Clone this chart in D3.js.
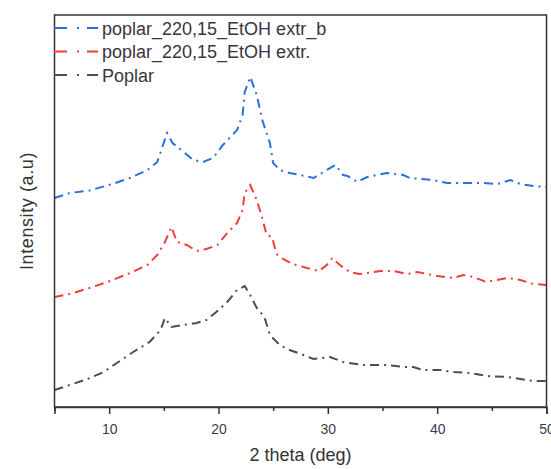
<!DOCTYPE html>
<html>
<head>
<meta charset="utf-8">
<script src="https://cdn.jsdelivr.net/npm/d3@7"></script>
<style>
  html, body { margin: 0; padding: 0; background: #fff; }
  svg { display: block; }
  text { font-family: "Liberation Sans", Arial, sans-serif; }
</style>
</head>
<body>
<svg id="chart" width="551" height="469"></svg>
<script>
// ---- data (2theta in deg, intensity in arbitrary units) ----
const seriesNames = ["poplar_220,15_EtOH extr_b", "poplar_220,15_EtOH extr.", "Poplar"];
const seriesColors = ["#2a6fdb", "#f03c3c", "#4d4d4d"];

const blueX = [5.0, 6.4, 8.2, 10.3, 11.9, 13.5, 14.4, 15.3, 15.8, 16.8, 17.7, 18.6, 19.5, 20.4, 21.7, 22.2, 22.4, 22.9, 23.5, 24.0, 24.7, 25.0, 25.6, 26.5, 27.5, 28.7, 29.9, 30.7, 31.4, 31.8, 32.7, 33.6, 35.4, 36.9, 37.5, 39.6, 40.9, 42.4, 44.2, 45.5, 46.7, 47.6, 48.8, 50.0];
const blueY = [209, 214, 216.5, 223, 229, 237, 245, 274, 264, 255, 247, 245, 249, 262, 277, 292, 315, 330, 312, 287, 264, 244, 237, 234, 232, 229, 237, 242, 232, 231, 225, 230, 234, 232, 229, 227, 224, 224, 224, 223, 227, 223, 221, 220];

const redX = [5.0, 6.4, 8.2, 10.1, 11.9, 13.5, 14.4, 15.1, 15.7, 16.2, 17.1, 18.0, 18.9, 19.9, 20.8, 21.7, 22.2, 22.4, 22.9, 23.5, 24.0, 24.4, 24.9, 25.2, 25.4, 25.9, 26.8, 28.1, 29.2, 29.9, 30.4, 31.1, 32.0, 32.9, 34.8, 36.0, 37.3, 38.2, 40.0, 41.5, 42.4, 43.3, 44.5, 46.4, 47.6, 48.8, 50.0];
const redY = [110, 113, 119, 126, 134, 142, 152, 165, 180, 165, 162, 156, 158, 162, 174, 184, 197, 214, 222, 207, 189, 172, 170, 157, 152, 148, 143, 139, 136, 142, 149, 142, 135, 133, 136, 136, 133, 135, 131, 129, 132, 130, 125, 129, 127, 123, 122];

const greyX = [5.0, 6.4, 8.0, 9.5, 10.7, 12.2, 13.7, 14.7, 15.1, 15.7, 16.8, 18.0, 18.9, 19.8, 20.8, 21.7, 22.4, 22.9, 23.5, 24.2, 24.7, 25.6, 26.5, 27.3, 28.7, 30.2, 31.4, 33.2, 35.4, 36.9, 37.8, 38.7, 40.3, 41.5, 43.0, 44.6, 46.4, 47.6, 48.8, 50.0];
const greyY = [17, 22, 28, 35, 44, 55, 65, 77, 89, 80, 82, 84, 87, 95, 105, 117, 121, 112, 99, 90, 72, 62, 57, 54, 48, 50, 45, 42, 42, 40, 40, 37, 37, 35, 34, 31, 30, 28, 26, 26];

const xTicks = [10, 20, 30, 40, 50];
const xMinorTicks = [5, 15, 25, 35, 45];
const xLabel = "2 theta (deg)";
const yLabel = "Intensity (a.u)";

// ---- layout ----
const svg = d3.select("#chart");
const pLeft = 54.5, pRight = 546.5, pTop = 15, pBottom = 407;

const x = d3.scaleLinear().domain([5, 50]).range([pLeft, pRight]);
const y = d3.scaleLinear().domain([0, 392]).range([pBottom, pTop]);

const series = [
  { name: seriesNames[0], color: seriesColors[0], xs: blueX, ys: blueY },
  { name: seriesNames[1], color: seriesColors[1], xs: redX, ys: redY },
  { name: seriesNames[2], color: seriesColors[2], xs: greyX, ys: greyY }
];

const line = d3.line().x(d => x(d[0])).y(d => y(d[1])).curve(d3.curveLinear);

// curves
series.forEach(s => {
  const pts = s.xs.map((v, i) => [v, s.ys[i]]);
  svg.append("path")
    .attr("d", line(pts))
    .attr("fill", "none")
    .attr("stroke", s.color)
    .attr("stroke-width", 2)
    .attr("stroke-dasharray", "9,5,2,5");
});

// frame
svg.append("rect")
  .attr("x", pLeft).attr("y", pTop)
  .attr("width", pRight - pLeft).attr("height", pBottom - pTop)
  .attr("fill", "none").attr("stroke", "#333").attr("stroke-width", 1.5);

// bottom axis
const xAxis = d3.axisBottom(x).tickValues(xTicks).tickSize(7).tickPadding(10).tickFormat(d3.format("d"));
const gx = svg.append("g").attr("transform", `translate(0,${pBottom})`).call(xAxis);
gx.select(".domain").attr("stroke", "#333").attr("stroke-width", 1.5);
gx.selectAll(".tick line").attr("stroke", "#333").attr("stroke-width", 1.5);
gx.selectAll(".tick text").attr("font-size", 14).attr("fill", "#3f3a4a")
  .attr("font-family", "'Liberation Sans', Arial, sans-serif");

const xAxisMinor = d3.axisBottom(x).tickValues(xMinorTicks).tickSize(4).tickFormat("");
const gxm = svg.append("g").attr("transform", `translate(0,${pBottom})`).call(xAxisMinor);
gxm.select(".domain").remove();
gxm.selectAll(".tick line").attr("stroke", "#333").attr("stroke-width", 1.5);

// axis titles
svg.append("text")
  .attr("x", (pLeft + pRight) / 2).attr("y", 461)
  .attr("text-anchor", "middle").attr("font-size", 18).attr("fill", "#333")
  .text(xLabel);

svg.append("text")
  .attr("transform", `translate(33,${(pTop + pBottom) / 2}) rotate(-90)`)
  .attr("text-anchor", "middle").attr("font-size", 18).attr("fill", "#333")
  .attr("letter-spacing", 0.6)
  .text(yLabel);

// legend
const legendY = [28, 51.5, 75];
series.forEach((s, i) => {
  const g = svg.append("g");
  g.append("line")
    .attr("x1", 54).attr("x2", 98)
    .attr("y1", legendY[i]).attr("y2", legendY[i])
    .attr("stroke", s.color).attr("stroke-width", 2)
    .attr("stroke-dasharray", "13,10,2,8");
  g.append("text")
    .attr("x", 102).attr("y", legendY[i] + 6.5)
    .attr("font-size", 18).attr("fill", "#3a3440")
    .text(s.name);
});
</script>
</body>
</html>
